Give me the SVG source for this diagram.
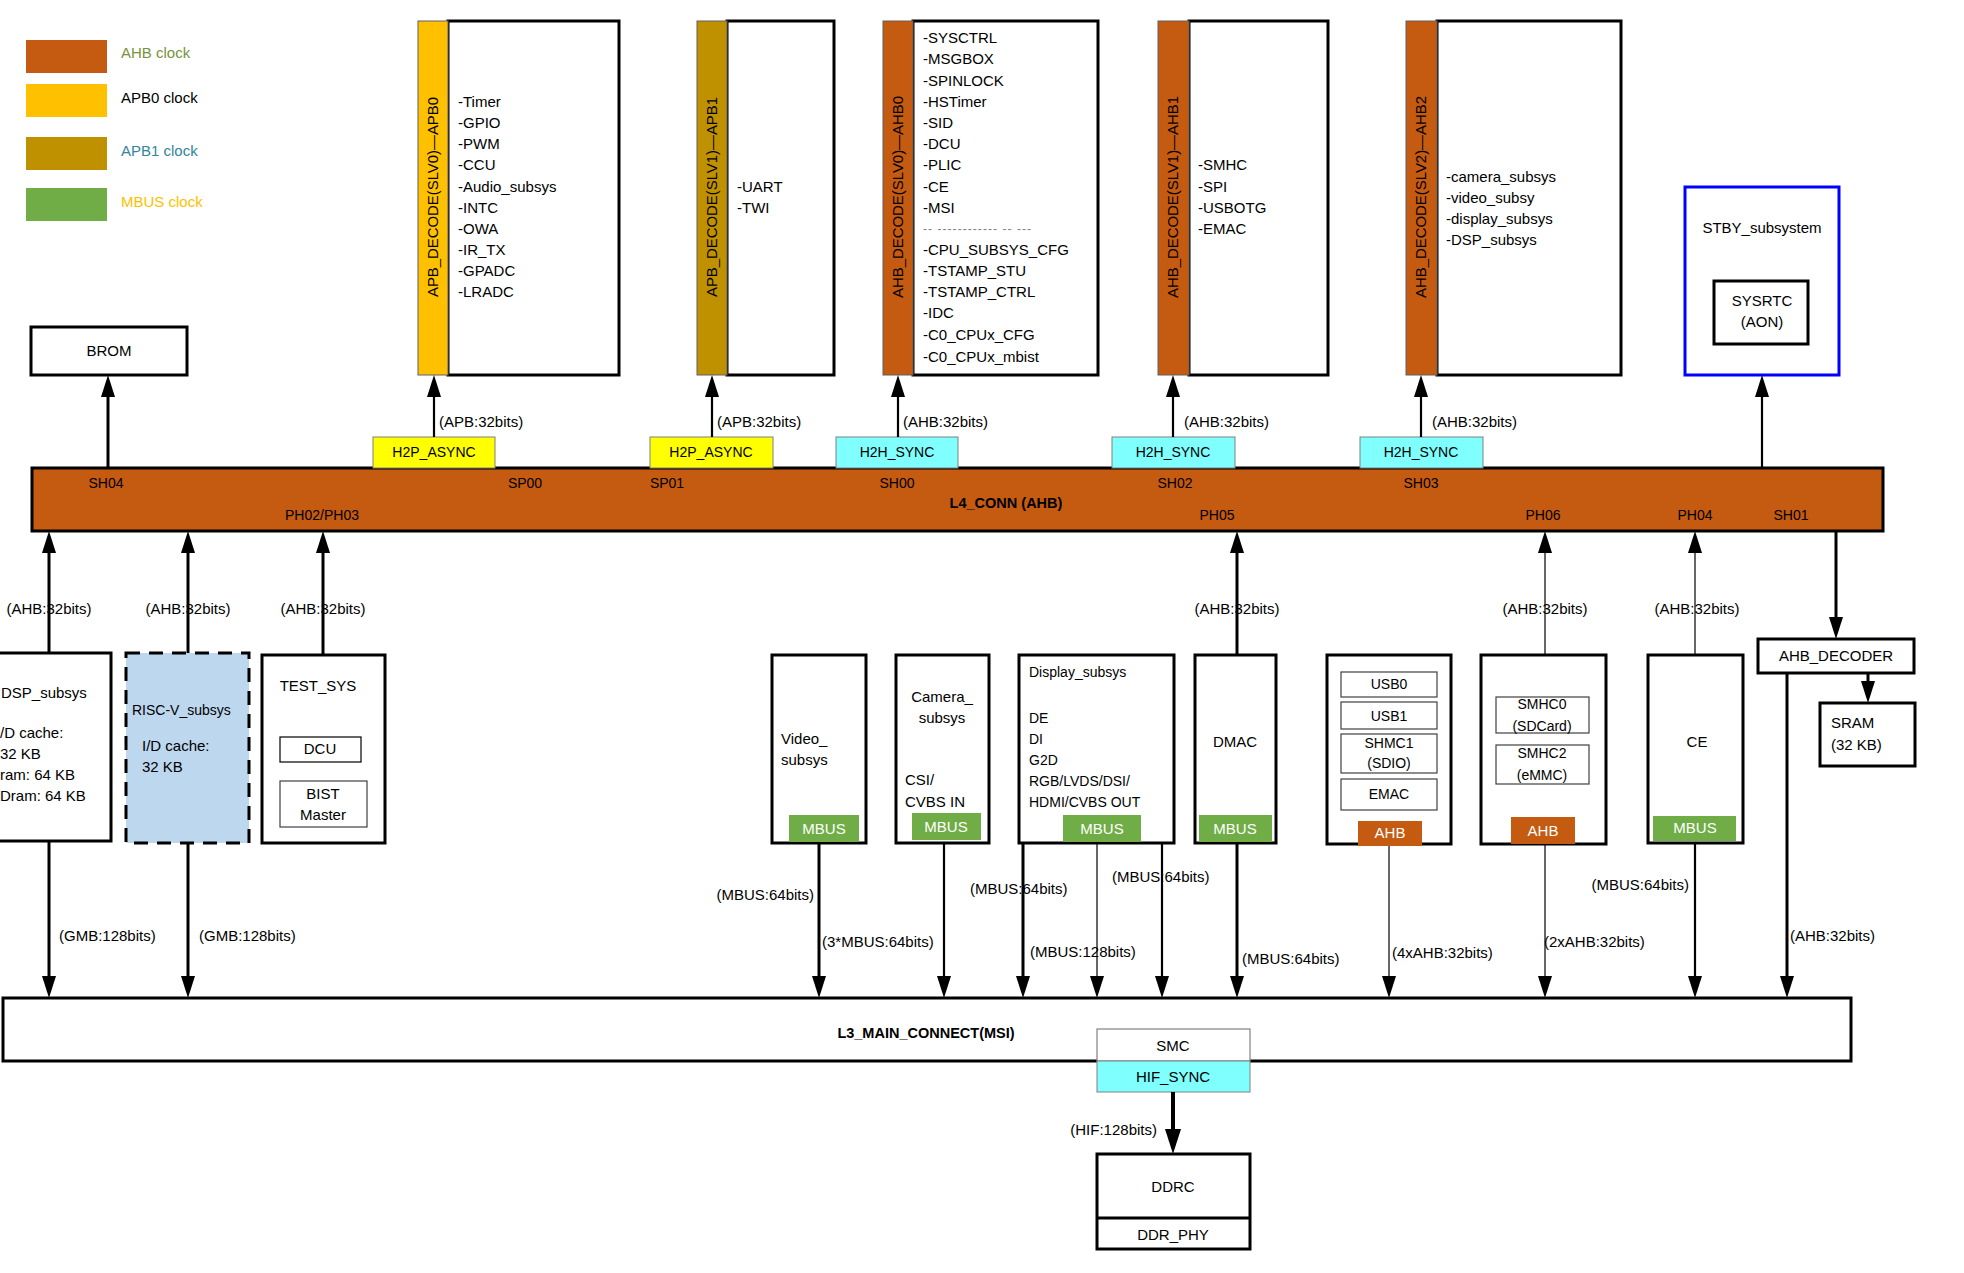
<svg xmlns="http://www.w3.org/2000/svg" width="1964" height="1273" viewBox="0 0 1964 1273">
<style>
text{font-family:"Liberation Sans",Arial,sans-serif;font-size:15px;fill:#000}
.b{font-size:14px}
.bold{font-weight:bold;font-size:14.5px}
.m{text-anchor:middle}
.e{text-anchor:end}
.w{fill:#fff}
.box{fill:#fff;stroke:#000;stroke-width:3}
.sub{fill:#fff;stroke:#404040;stroke-width:1.2}
.ahb{fill:#C55A11}
.apb0{fill:#FFC000}
.apb1{fill:#BF9000}
.mbus{fill:#70AD47}
.y{fill:#FFFF00;stroke:#808080;stroke-width:1}
.c{fill:#80FFFF;stroke:#808080;stroke-width:1}
.bar{stroke:#606060;stroke-width:1}
.rot{font-size:14px}
.c3{stroke:#000;stroke-width:3;fill:none}
.c2{stroke:#000;stroke-width:2.2;fill:none}
.c1{stroke:#000;stroke-width:1.2;fill:none}
</style>
<defs>
<marker id="ah" viewBox="0 0 22 14" refX="16" refY="7" markerWidth="22" markerHeight="14" markerUnits="userSpaceOnUse" orient="auto"><path d="M0,0 L22,7 L0,14 z" fill="#000"/></marker>
<marker id="ahb" viewBox="0 0 25 16" refX="19" refY="8" markerWidth="25" markerHeight="16" markerUnits="userSpaceOnUse" orient="auto"><path d="M0,0 L25,8 L0,16 z" fill="#000"/></marker>
</defs>
<rect width="1964" height="1273" fill="#fff"/>

<g id="legend">
<rect x="26" y="40" width="81" height="33" class="ahb"/>
<text x="121" y="58" style="fill:#77933C">AHB clock</text>
<rect x="26" y="84" width="81" height="33" class="apb0"/>
<text x="121" y="103">APB0 clock</text>
<rect x="26" y="137" width="81" height="33" class="apb1"/>
<text x="121" y="156" style="fill:#31859C">APB1 clock</text>
<rect x="26" y="188" width="81" height="33" class="mbus"/>
<text x="121" y="207" style="fill:#FFC000">MBUS clock</text>
</g>

<g id="brom">
<rect x="31" y="327" width="156" height="48" class="box"/>
<text x="109" y="356" class="m">BROM</text>
</g>

<g id="apb0">
<rect x="448" y="21" width="171" height="354" class="box"/>
<rect x="418" y="21" width="30" height="354" class="apb0 bar"/>
<text class="rot" transform="translate(438,297) rotate(-90)" textLength="200" lengthAdjust="spacingAndGlyphs">APB_DECODE(SLV0)—APB0</text>
<text x="458" y="107">-Timer</text>
<text x="458" y="128">-GPIO</text>
<text x="458" y="149">-PWM</text>
<text x="458" y="170">-CCU</text>
<text x="458" y="192">-Audio_subsys</text>
<text x="458" y="213">-INTC</text>
<text x="458" y="234">-OWA</text>
<text x="458" y="255">-IR_TX</text>
<text x="458" y="276">-GPADC</text>
<text x="458" y="297">-LRADC</text>
</g>

<g id="apb1">
<rect x="727" y="21" width="107" height="354" class="box"/>
<rect x="697" y="21" width="30" height="354" class="apb1 bar"/>
<text class="rot" transform="translate(717,297) rotate(-90)" textLength="200" lengthAdjust="spacingAndGlyphs">APB_DECODE(SLV1)—APB1</text>
<text x="737" y="192">-UART</text>
<text x="737" y="213">-TWI</text>
</g>

<g id="ahb0">
<rect x="913" y="21" width="185" height="354" class="box"/>
<rect x="883" y="21" width="30" height="354" class="ahb bar"/>
<text class="rot" transform="translate(903,298) rotate(-90)" textLength="202" lengthAdjust="spacingAndGlyphs">AHB_DECODE(SLV0)—AHB0</text>
<text x="923" y="43">-SYSCTRL</text>
<text x="923" y="64">-MSGBOX</text>
<text x="923" y="86">-SPINLOCK</text>
<text x="923" y="107">-HSTimer</text>
<text x="923" y="128">-SID</text>
<text x="923" y="149">-DCU</text>
<text x="923" y="170">-PLIC</text>
<text x="923" y="192">-CE</text>
<text x="923" y="213">-MSI</text>
<text x="923" y="233" style="fill:#808080;font-size:12px" textLength="108" lengthAdjust="spacing">-- ------------ -- ---</text>
<text x="923" y="255">-CPU_SUBSYS_CFG</text>
<text x="923" y="276">-TSTAMP_STU</text>
<text x="923" y="297">-TSTAMP_CTRL</text>
<text x="923" y="318">-IDC</text>
<text x="923" y="340">-C0_CPUx_CFG</text>
<text x="923" y="362">-C0_CPUx_mbist</text>
</g>

<g id="ahb1">
<rect x="1189" y="21" width="139" height="354" class="box"/>
<rect x="1158" y="21" width="31" height="354" class="ahb bar"/>
<text class="rot" transform="translate(1178,298) rotate(-90)" textLength="202" lengthAdjust="spacingAndGlyphs">AHB_DECODE(SLV1)—AHB1</text>
<text x="1198" y="170">-SMHC</text>
<text x="1198" y="192">-SPI</text>
<text x="1198" y="213">-USBOTG</text>
<text x="1198" y="234">-EMAC</text>
</g>

<g id="ahb2">
<rect x="1437" y="21" width="184" height="354" class="box"/>
<rect x="1406" y="21" width="31" height="354" class="ahb bar"/>
<text class="rot" transform="translate(1426,298) rotate(-90)" textLength="202" lengthAdjust="spacingAndGlyphs">AHB_DECODE(SLV2)—AHB2</text>
<text x="1446" y="182">-camera_subsys</text>
<text x="1446" y="203">-video_subsy</text>
<text x="1446" y="224">-display_subsys</text>
<text x="1446" y="245">-DSP_subsys</text>
</g>

<g id="stby">
<rect x="1685" y="187" width="154" height="188" fill="#fff" stroke="#0000FF" stroke-width="3"/>
<text x="1762" y="233" class="m">STBY_subsystem</text>
<rect x="1714" y="281" width="94" height="63" class="box"/>
<text x="1762" y="306" class="m">SYSRTC</text>
<text x="1762" y="327" class="m">(AON)</text>
</g>

<g id="l4_conn">
<rect x="32" y="468" width="1851" height="63" class="ahb" stroke="#000" stroke-width="3"/>
<text x="106" y="488" class="b m">SH04</text>
<text x="525" y="488" class="b m">SP00</text>
<text x="667" y="488" class="b m">SP01</text>
<text x="897" y="488" class="b m">SH00</text>
<text x="1175" y="488" class="b m">SH02</text>
<text x="1421" y="488" class="b m">SH03</text>
<text x="322" y="520" class="b m">PH02/PH03</text>
<text x="1217" y="520" class="b m">PH05</text>
<text x="1543" y="520" class="b m">PH06</text>
<text x="1695" y="520" class="b m">PH04</text>
<text x="1791" y="520" class="b m">SH01</text>
<text x="1006" y="508" class="bold m">L4_CONN (AHB)</text>
</g>

<g id="h2p_async0">
<rect x="373" y="437" width="122" height="31" class="y"/>
<text x="434" y="457" class="b m">H2P_ASYNC</text>
</g>
<g id="h2p_async1">
<rect x="650" y="437" width="123" height="31" class="y"/>
<text x="711" y="457" class="b m">H2P_ASYNC</text>
</g>
<g id="h2h_sync0">
<rect x="836" y="437" width="122" height="31" class="c"/>
<text x="897" y="457" class="b m">H2H_SYNC</text>
</g>
<g id="h2h_sync1">
<rect x="1112" y="437" width="123" height="31" class="c"/>
<text x="1173" y="457" class="b m">H2H_SYNC</text>
</g>
<g id="h2h_sync2">
<rect x="1360" y="437" width="123" height="31" class="c"/>
<text x="1421" y="457" class="b m">H2H_SYNC</text>
</g>

<g id="dsp_subsys">
<rect x="-15" y="653" width="126" height="188" class="box"/>
<text x="1" y="698">DSP_subsys</text>
<text x="0" y="738">/D cache:</text>
<text x="0" y="759">32 KB</text>
<text x="0" y="780">ram: 64 KB</text>
<text x="0" y="801">Dram: 64 KB</text>
</g>

<g id="riscv_subsys">
<rect x="126" y="653" width="123" height="190" fill="#BDD7EE" stroke="#000" stroke-width="3" stroke-dasharray="14 9"/>
<text x="132" y="715" class="b">RISC-V_subsys</text>
<text x="142" y="751">I/D cache:</text>
<text x="142" y="772">32 KB</text>
</g>

<g id="test_sys">
<rect x="262" y="655" width="123" height="188" class="box"/>
<text x="318" y="691" class="m">TEST_SYS</text>
<rect x="280" y="737" width="81" height="25" fill="#fff" stroke="#000" stroke-width="1.2"/>
<text x="320" y="754" class="m">DCU</text>
<rect x="280" y="781" width="87" height="46" class="sub"/>
<text x="323" y="799" class="m">BIST</text>
<text x="323" y="820" class="m">Master</text>
</g>

<g id="video_subsys">
<rect x="772" y="655" width="94" height="188" class="box"/>
<text x="781" y="744">Video_</text>
<text x="781" y="765">subsys</text>
<rect x="789" y="815" width="70" height="27" class="mbus"/>
<text x="824" y="834" class="m w">MBUS</text>
</g>

<g id="camera_subsys">
<rect x="896" y="655" width="93" height="188" class="box"/>
<text x="942" y="702" class="m">Camera_</text>
<text x="942" y="723" class="m">subsys</text>
<text x="905" y="785">CSI/</text>
<text x="905" y="807">CVBS IN</text>
<rect x="912" y="813" width="69" height="27" class="mbus"/>
<text x="946" y="832" class="m w">MBUS</text>
</g>

<g id="display_subsys">
<rect x="1019" y="655" width="155" height="188" class="box"/>
<text x="1029" y="677" class="b">Display_subsys</text>
<text x="1029" y="723" class="b">DE</text>
<text x="1029" y="744" class="b">DI</text>
<text x="1029" y="765" class="b">G2D</text>
<text x="1029" y="786" class="b">RGB/LVDS/DSI/</text>
<text x="1029" y="807" class="b">HDMI/CVBS OUT</text>
<rect x="1063" y="815" width="78" height="27" class="mbus"/>
<text x="1102" y="834" class="m w">MBUS</text>
</g>

<g id="dmac">
<rect x="1195" y="655" width="81" height="188" class="box"/>
<text x="1235" y="747" class="m">DMAC</text>
<rect x="1199" y="815" width="73" height="27" class="mbus"/>
<text x="1235" y="834" class="m w">MBUS</text>
</g>

<g id="usb_group">
<rect x="1327" y="655" width="124" height="189" class="box"/>
<rect x="1341" y="672" width="96" height="25" class="sub"/>
<text x="1389" y="689" class="b m">USB0</text>
<rect x="1341" y="702" width="96" height="27" class="sub"/>
<text x="1389" y="721" class="b m">USB1</text>
<rect x="1341" y="734" width="96" height="39" class="sub"/>
<text x="1389" y="748" class="b m">SHMC1</text>
<text x="1389" y="768" class="b m">(SDIO)</text>
<rect x="1341" y="779" width="96" height="31" class="sub"/>
<text x="1389" y="799" class="b m">EMAC</text>
<rect x="1358" y="821" width="64" height="25" class="ahb"/>
<text x="1390" y="838" class="m w">AHB</text>
</g>

<g id="smhc_group">
<rect x="1481" y="655" width="125" height="189" class="box"/>
<rect x="1496" y="697" width="93" height="36" class="sub"/>
<text x="1542" y="709" class="b m">SMHC0</text>
<text x="1542" y="731" class="b m">(SDCard)</text>
<rect x="1496" y="745" width="93" height="39" class="sub"/>
<text x="1542" y="758" class="b m">SMHC2</text>
<text x="1542" y="780" class="b m">(eMMC)</text>
<rect x="1511" y="817" width="64" height="27" class="ahb"/>
<text x="1543" y="836" class="m w">AHB</text>
</g>

<g id="ce">
<rect x="1648" y="655" width="95" height="188" class="box"/>
<text x="1697" y="747" class="m">CE</text>
<rect x="1653" y="816" width="83" height="25" class="mbus"/>
<text x="1695" y="833" class="m w">MBUS</text>
</g>

<g id="ahb_decoder">
<rect x="1758" y="639" width="156" height="34" class="box"/>
<text x="1836" y="661" class="m">AHB_DECODER</text>
</g>

<g id="sram">
<rect x="1820" y="703" width="95" height="63" class="box"/>
<text x="1831" y="728">SRAM</text>
<text x="1831" y="750">(32 KB)</text>
</g>

<g id="l3_main_connect">
<rect x="3" y="998" width="1848" height="63" class="box"/>
<text x="926" y="1038" class="bold m">L3_MAIN_CONNECT(MSI)</text>
</g>

<g id="smc">
<rect x="1097" y="1029" width="153" height="32" fill="#fff" stroke="#808080" stroke-width="1.2"/>
<text x="1173" y="1051" class="m">SMC</text>
<rect x="1097" y="1061" width="153" height="31" class="c"/>
<text x="1173" y="1082" class="m">HIF_SYNC</text>
</g>

<g id="ddrc">
<rect x="1097" y="1154" width="153" height="95" class="box"/>
<line x1="1097" y1="1218" x2="1250" y2="1218" class="c3"/>
<text x="1173" y="1192" class="m">DDRC</text>
<text x="1173" y="1240" class="m">DDR_PHY</text>
</g>

<g id="connectors">
<path d="M108,468 L108,381" class="c3" marker-end="url(#ah)"/>
<path d="M434,437 L434,381" class="c2" marker-end="url(#ah)"/>
<path d="M712,437 L712,381" class="c2" marker-end="url(#ah)"/>
<path d="M898,437 L898,381" class="c2" marker-end="url(#ah)"/>
<path d="M1173,437 L1173,381" class="c2" marker-end="url(#ah)"/>
<path d="M1421,437 L1421,381" class="c2" marker-end="url(#ah)"/>
<path d="M1762,468 L1762,381" class="c2" marker-end="url(#ah)"/>
<path d="M49,653 L49,537" class="c3" marker-end="url(#ah)"/>
<path d="M188,653 L188,537" class="c3" marker-end="url(#ah)"/>
<path d="M323,655 L323,537" class="c3" marker-end="url(#ah)"/>
<path d="M1237,655 L1237,537" class="c3" marker-end="url(#ah)"/>
<path d="M1545,655 L1545,537" class="c1" marker-end="url(#ah)"/>
<path d="M1695,655 L1695,537" class="c1" marker-end="url(#ah)"/>
<path d="M1836,531 L1836,633" class="c3" marker-end="url(#ah)"/>
<path d="M49,841 L49,992" class="c3" marker-end="url(#ah)"/>
<path d="M188,843 L188,992" class="c3" marker-end="url(#ah)"/>
<path d="M819,843 L819,992" class="c3" marker-end="url(#ah)"/>
<path d="M944,843 L944,992" class="c2" marker-end="url(#ah)"/>
<path d="M1023,843 L1023,992" class="c3" marker-end="url(#ah)"/>
<path d="M1097,843 L1097,992" class="c1" marker-end="url(#ah)"/>
<path d="M1162,843 L1162,992" class="c2" marker-end="url(#ah)"/>
<path d="M1237,843 L1237,992" class="c3" marker-end="url(#ah)"/>
<path d="M1389,846 L1389,992" class="c1" marker-end="url(#ah)"/>
<path d="M1545,844 L1545,992" class="c1" marker-end="url(#ah)"/>
<path d="M1695,843 L1695,992" class="c2" marker-end="url(#ah)"/>
<path d="M1787,673 L1787,992" class="c3" marker-end="url(#ah)"/>
<path d="M1868,673 L1868,697" class="c3" marker-end="url(#ah)"/>
<path d="M1173,1092 L1173,1148" style="stroke:#000;stroke-width:4;fill:none" marker-end="url(#ahb)"/>
<text x="439" y="427">(APB:32bits)</text>
<text x="717" y="427">(APB:32bits)</text>
<text x="903" y="427">(AHB:32bits)</text>
<text x="1184" y="427">(AHB:32bits)</text>
<text x="1432" y="427">(AHB:32bits)</text>
<text x="49" y="614" class="m">(AHB:32bits)</text>
<text x="188" y="614" class="m">(AHB:32bits)</text>
<text x="323" y="614" class="m">(AHB:32bits)</text>
<text x="1237" y="614" class="m">(AHB:32bits)</text>
<text x="1545" y="614" class="m">(AHB:32bits)</text>
<text x="1697" y="614" class="m">(AHB:32bits)</text>
<text x="59" y="941">(GMB:128bits)</text>
<text x="199" y="941">(GMB:128bits)</text>
<text x="814" y="900" class="e">(MBUS:64bits)</text>
<text x="822" y="947">(3*MBUS:64bits)</text>
<text x="970" y="894">(MBUS:64bits)</text>
<text x="1112" y="882">(MBUS:64bits)</text>
<text x="1030" y="957">(MBUS:128bits)</text>
<text x="1242" y="964">(MBUS:64bits)</text>
<text x="1392" y="958">(4xAHB:32bits)</text>
<text x="1544" y="947">(2xAHB:32bits)</text>
<text x="1689" y="890" class="e">(MBUS:64bits)</text>
<text x="1790" y="941">(AHB:32bits)</text>
<text x="1157" y="1135" class="e">(HIF:128bits)</text>
</g>
</svg>
